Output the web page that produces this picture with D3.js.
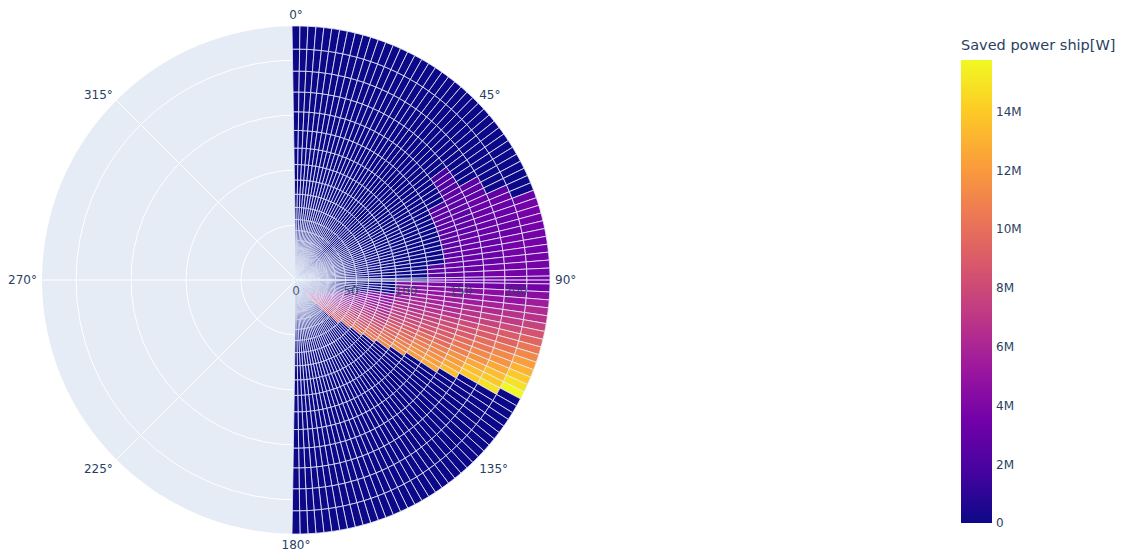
<!DOCTYPE html>
<html>
<head>
<meta charset="utf-8">
<script src="https://cdn.jsdelivr.net/npm/d3@7"></script>
<style>
  body { margin: 0; background: #ffffff; }
  svg { display: block; font-family: "DejaVu Sans", Verdana, sans-serif; }
</style>
</head>
<body>
<svg id="chart" width="1129" height="553"></svg>
<script>
// Wind direction of each bar (degrees, clockwise from the bow)
const directions = [
  0, 1.8, 3.6, 5.4, 7.2, 9, 10.8, 12.6, 14.4, 16.2,
  18, 19.8, 21.6, 23.4, 25.2, 27, 28.8, 30.6, 32.4, 34.2,
  36, 37.8, 39.6, 41.4, 43.2, 45, 46.8, 48.6, 50.4, 52.2,
  54, 55.8, 57.6, 59.4, 61.2, 63, 64.8, 66.6, 68.4, 70.2,
  72, 73.8, 75.6, 77.4, 79.2, 81, 82.8, 84.6, 86.4, 88.2,
  90, 91.8, 93.6, 95.4, 97.2, 99, 100.8, 102.6, 104.4, 106.2,
  108, 109.8, 111.6, 113.4, 115.2, 117, 118.8, 120.6, 122.4, 124.2,
  126, 127.8, 129.6, 131.4, 133.2, 135, 136.8, 138.6, 140.4, 142.2,
  144, 145.8, 147.6, 149.4, 151.2, 153, 154.8, 156.6, 158.4, 160.2,
  162, 163.8, 165.6, 167.4, 169.2, 171, 172.8, 174.6, 176.4, 178.2,
  180
];

// Wind speeds; each one is a stacked segment of its direction's bar
const speeds = [1, 2, 3, 4, 5, 6, 7, 8, 9, 10, 11, 12, 13, 14, 15, 16, 17, 18, 19, 20, 21];

// Saved power per direction (rows) and speed (characters, slowest first).
// Each character is a base-36 count of powerStepW.
const powerStepW = 450000;
const powerRows = [
  "000000000000000000000", "000000000000000000000", "000000000000000000000",
  "000000000000000000000", "000000000000000000000", "000000000000000000000",
  "000000000000000000000", "000000000000000000000", "000000000000000000000",
  "000000000000000000000", "000000000000000000000", "000000000000000000000",
  "000000000000000000000", "000000000000000000000", "000000000000000000000",
  "000000000000000000000", "000000000000000000000", "000000000000000000000",
  "000000000000000000000", "000000000000000000000", "000000000000000000000",
  "000000000000000000000", "000000000000000000000", "000000000000000000000",
  "000000000000000000000", "000000000000000000000", "000000000000000000000",
  "000000000000000000000", "000000000000000000000", "000000000000000000000",
  "000000000000000004000", // 54
  "000000000000000005000",
  "000000000000000005000",
  "000000000000000005000",
  "000000000000000006600",
  "000000000000000056600", // 63
  "000000000000000066600",
  "000000000000000066760",
  "000000000000000066770",
  "000000000000000066777",
  "000000000000000066778", // 72
  "000000000000000066778",
  "000000000000000067778",
  "000000000000000067778",
  "000000000000000067788",
  "000000000000000067788", // 81
  "000000000000000077788",
  "000000000000000677788",
  "000000000000000677888",
  "000000000000000677888",
  "000000000000000777888", // 90
  "000000000000099988888",
  "0000000000000aaaaaaaa",
  "0000000000000bbbbbbbc",
  "0000000000000bccccdde",
  "0000000000099cdddeeff", // 99
  "00000000009aadeeefggh",
  "0000000009abbeeffghij",
  "000000000abbcffghijkl",
  "000000009bbcdgghijkln",
  "00000000abcdeghijkmnp", // 108
  "00000000bcdeehijkmnpr",
  "00000009bceffijklnpqt",
  "0000000acdefgjkmmoqsv",
  "0000000acefghklnoqsux",
  "0000009bdeghilmopruvz", // 117
  "000000acefhijlnpqsvx0",
  "000000aceghjkmoqru000",
  "000000bdfgijlnprs0000",
  "000000ceghjkmoq000000",
  "000000cegiklnp0000000", // 126
  "000009dfhikmo00000000",
  "00000aeghjln000000000",
  "00000begikm0000000000",
  "00000cfhjk00000000000",
  "00000dgijl00000000000", // 135
  "00000egik000000000000",
  "00000fhj0000000000000",
  "00000fi00000000000000",
  "00000gi00000000000000",
  "00000h000000000000000", // 144
  "000000000000000000000", "000000000000000000000", "000000000000000000000",
  "000000000000000000000", "000000000000000000000", "000000000000000000000",
  "000000000000000000000", "000000000000000000000", "000000000000000000000",
  "000000000000000000000", "000000000000000000000", "000000000000000000000",
  "000000000000000000000", "000000000000000000000", "000000000000000000000",
  "000000000000000000000", "000000000000000000000", "000000000000000000000",
  "000000000000000000000", "000000000000000000000"
];

const radialTicks = [0, 50, 100, 150, 200];
const angularTicks = [0, 45, 90, 135, 180, 225, 270, 315];
const colorbarTicks = [0, 2e6, 4e6, 6e6, 8e6, 10e6, 12e6, 14e6];
const colorbarTitle = "Saved power ship[W]";

// Plasma colour scale
const plasma = ["#0d0887", "#46039f", "#7201a8", "#9c179e", "#bd3786",
                "#d8576b", "#ed7953", "#fb9f3a", "#fdca26", "#f0f921"];

const textColor = "#2a3f5f";
const bgColor = "#E5ECF6";
const cx = 296, cy = 280, R = 254;

const svg = d3.select("#chart");

// One record per stacked segment
const stackTops = d3.cumsum(speeds);
const bars = [];
directions.forEach((dir, i) => {
  const row = powerRows[i] || "";
  speeds.forEach((s, k) => {
    const ch = row[k] || "0";
    bars.push({
      dir,
      inner: stackTops[k] - s,
      outer: stackTops[k],
      power: parseInt(ch, 36) * powerStepW
    });
  });
});

const maxPower = d3.max(bars, d => d.power);
const radial = d3.scaleLinear().domain([0, d3.sum(speeds)]).range([0, R]);
const angle = d3.scaleLinear().domain([0, 360]).range([0, 2 * Math.PI]);
const color = d3.scaleLinear()
  .domain(plasma.map((_, i) => maxPower * i / (plasma.length - 1)))
  .range(plasma)
  .clamp(true);
const barWidth = directions[1] - directions[0];

const polar = svg.append("g").attr("transform", `translate(${cx},${cy})`);

// background disc
polar.append("circle").attr("r", R).attr("fill", bgColor);

// grid below the bars
polar.append("g").selectAll("circle")
  .data(radialTicks.filter(t => t > 0))
  .join("circle")
  .attr("r", d => radial(d))
  .attr("fill", "none")
  .attr("stroke", "#ffffff")
  .attr("stroke-width", 1);

polar.append("g").selectAll("line")
  .data(angularTicks)
  .join("line")
  .attr("x1", 0).attr("y1", 0)
  .attr("x2", d => R * Math.sin(angle(d)))
  .attr("y2", d => -R * Math.cos(angle(d)))
  .attr("stroke", "#ffffff")
  .attr("stroke-width", 1);

// stacked bars
const arc = d3.arc()
  .innerRadius(d => radial(d.inner))
  .outerRadius(d => radial(d.outer))
  .startAngle(d => angle(d.dir - barWidth / 2))
  .endAngle(d => angle(d.dir + barWidth / 2));

polar.append("g").selectAll("path")
  .data(bars)
  .join("path")
  .attr("d", arc)
  .attr("fill", d => color(d.power))
  .attr("stroke", bgColor)
  .attr("stroke-width", 0.8);

// radial axis line above the bars
polar.append("line")
  .attr("x1", 0).attr("y1", 0).attr("x2", R).attr("y2", 0)
  .attr("stroke", "#ffffff").attr("stroke-width", 1.2);

// radial tick labels
polar.append("g").selectAll("text")
  .data(radialTicks)
  .join("text")
  .attr("x", d => radial(d))
  .attr("y", 15)
  .attr("text-anchor", "middle")
  .attr("font-size", 12)
  .attr("fill", textColor)
  .attr("fill-opacity", 0.85)
  .text(d => d);

// angular tick labels
polar.append("g").selectAll("text")
  .data(angularTicks)
  .join("text")
  .each(function (d) {
    const a = angle(d), pad = 5;
    const sx = Math.sin(a), cyv = Math.cos(a);
    const x = (R + pad) * sx;
    const y = -(R + pad) * cyv - cyv * 6 + 4 + (Math.abs(sx) > 0.5 && Math.abs(cyv) > 0.5 ? 2 : 0);
    d3.select(this)
      .attr("x", x)
      .attr("y", y)
      .attr("text-anchor", Math.abs(sx) < 0.01 ? "middle" : (sx > 0 ? "start" : "end"));
  })
  .attr("font-size", 12)
  .attr("fill", textColor)
  .text(d => d + "°");

// colour bar
const cbX = 961, cbW = 31, cbTop = 60, cbBottom = 523;
const cbScale = d3.scaleLinear().domain([0, maxPower]).range([cbBottom, cbTop]);
const grad = svg.append("defs").append("linearGradient")
  .attr("id", "cbGrad").attr("x1", 0).attr("y1", 1).attr("x2", 0).attr("y2", 0);
grad.selectAll("stop")
  .data(plasma)
  .join("stop")
  .attr("offset", (_, i) => i / (plasma.length - 1))
  .attr("stop-color", d => d);

svg.append("rect")
  .attr("x", cbX).attr("y", cbTop)
  .attr("width", cbW).attr("height", cbBottom - cbTop)
  .attr("fill", "url(#cbGrad)");

const cbAxis = d3.axisRight(cbScale)
  .tickValues(colorbarTicks)
  .tickSize(0)
  .tickPadding(4)
  .tickFormat(d3.format("~s"));
const cbG = svg.append("g")
  .attr("transform", `translate(${cbX + cbW},0)`)
  .call(cbAxis);
cbG.select(".domain").remove();
cbG.selectAll("text")
  .attr("font-size", 12)
  .attr("font-family", "\"DejaVu Sans\", Verdana, sans-serif")
  .attr("fill", textColor);

svg.append("text")
  .attr("x", cbX)
  .attr("y", 50)
  .attr("font-size", 14.5)
  .attr("fill", textColor)
  .text(colorbarTitle);
</script>
</body>
</html>
